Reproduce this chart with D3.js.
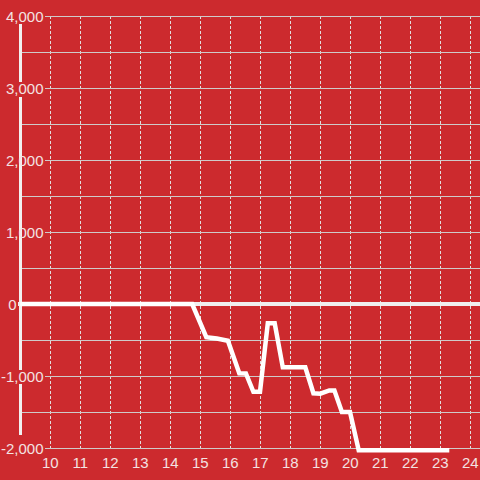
<!DOCTYPE html>
<html><head><meta charset="utf-8">
<script src="https://cdn.jsdelivr.net/npm/d3@7"></script>
<style>html,body{margin:0;padding:0;background:#cc2a2e;}svg{display:block;}</style>
</head><body>
<svg id="chart" width="480" height="480"></svg>
<script>
const xVals = [9, 14.73, 15.2, 15.55, 15.92, 16.3, 16.52, 16.77, 16.99, 17.25, 17.48, 17.75, 18.5, 18.77, 19.0, 19.3, 19.47, 19.72, 19.99, 20.28, 23.3];
const yVals = [0, 0, -460, -480, -510, -963, -965, -1220, -1220, -268, -268, -880, -880, -1240, -1245, -1200, -1200, -1500, -1500, -2030, -2030];
const xTicks = [10, 11, 12, 13, 14, 15, 16, 17, 18, 19, 20, 21, 22, 23, 24];
const yTicks = [-2000, -1000, 0, 1000, 2000, 3000, 4000];
const yMinor = [-1500, -500, 500, 1500, 2500, 3500];

const W = 480, H = 480;
const svg = d3.select("#chart");
svg.append("rect").attr("width", W).attr("height", H).attr("fill", "#cc2a2e");

const x = d3.scaleLinear().domain([9, 24]).range([20.3, 470.3]);
const y = d3.scaleLinear().domain([-2000, 4000]).range([448, 16]);
const fmt = d3.format(",");
const textColor = "#f3e2e2";
const font = "'Liberation Sans', Arial, sans-serif";

// vertical dotted grid
svg.append("g").selectAll("line").data(xTicks).join("line")
  .attr("x1", d => Math.round(x(d)) + 0.5).attr("x2", d => Math.round(x(d)) + 0.5)
  .attr("y1", y(4000)).attr("y2", y(-2000))
  .attr("stroke", "#e2dede").attr("stroke-width", 1).attr("stroke-dasharray", "3,2");

// horizontal grid: major from label edge, minor from axis
svg.append("g").selectAll("line").data(yTicks).join("line")
  .attr("x1", 45).attr("x2", W)
  .attr("y1", d => Math.round(y(d)) + 0.5).attr("y2", d => Math.round(y(d)) + 0.5)
  .attr("stroke", "#cfcaca").attr("stroke-width", 1.2);
svg.append("g").selectAll("line").data(yMinor).join("line")
  .attr("x1", 21).attr("x2", W)
  .attr("y1", d => Math.round(y(d)) + 0.5).attr("y2", d => Math.round(y(d)) + 0.5)
  .attr("stroke", "#cfcaca").attr("stroke-width", 1.2);

// y axis line (segments with gaps as seen)
const axisSegs = [[24, 82], [97, 370], [384, 435]];
svg.append("g").selectAll("line").data(axisSegs).join("line")
  .attr("x1", 20.5).attr("x2", 20.5)
  .attr("y1", d => d[0]).attr("y2", d => d[1])
  .attr("stroke", "#f2f0f0").attr("stroke-width", 3);

// zero line
svg.append("line").attr("x1", 18).attr("x2", W)
  .attr("y1", y(0)).attr("y2", y(0))
  .attr("stroke", "#f0eeee").attr("stroke-width", 4);

// y labels
svg.append("g").selectAll("text").data(yTicks).join("text")
  .attr("x", d => d === 0 ? 16.5 : 43.5).attr("y", d => y(d))
  .attr("text-anchor", "end").attr("dominant-baseline", "central")
  .attr("font-family", font).attr("font-size", 15).attr("fill", textColor)
  .text(d => fmt(d).replace("−", "-"));

// x labels
svg.append("g").selectAll("text").data(xTicks).join("text")
  .attr("x", d => x(d)).attr("y", 462)
  .attr("text-anchor", "middle").attr("dominant-baseline", "central")
  .attr("font-family", font).attr("font-size", 15).attr("fill", textColor)
  .text(d => d);

// data line
const pts = xVals.map((v, i) => [v, yVals[i]]);
const line = d3.line().x(d => x(d[0])).y(d => y(d[1]));
svg.append("path").attr("d", line(pts))
  .attr("fill", "none").attr("stroke", "#ffffff").attr("stroke-width", 4.5)
  .attr("stroke-linejoin", "miter").attr("stroke-linecap", "butt");
</script>
</body></html>
